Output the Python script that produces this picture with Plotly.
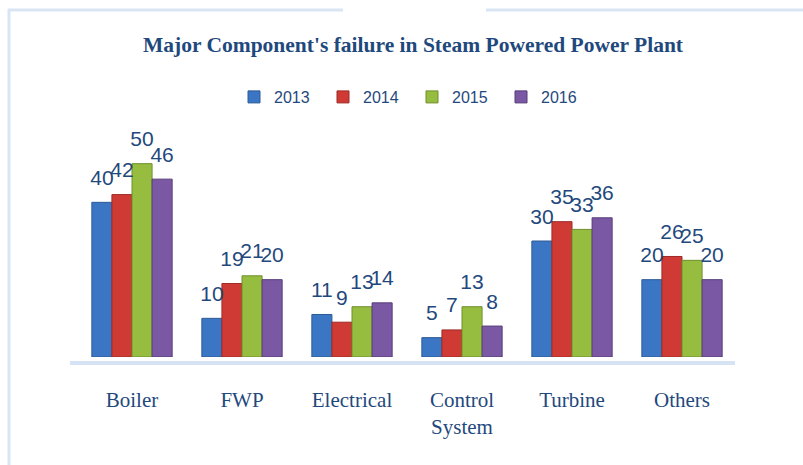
import plotly.graph_objects as go

categories = ["Boiler", "FWP", "Electrical", "Control<br>System", "Turbine", "Others"]
years = ["2013", "2014", "2015", "2016"]
v2013 = [40, 10, 11, 5, 30, 20]
v2014 = [42, 19, 9, 7, 35, 26]
v2015 = [50, 21, 13, 13, 33, 25]
v2016 = [46, 20, 14, 8, 36, 20]
series = [v2013, v2014, v2015, v2016]
colors = ["#3A76C4", "#CF3A35", "#96BD40", "#7B58A4"]
edge = ["#2C5A96", "#9E2B27", "#6F8F2C", "#563C78"]

W, H = 803, 465
L, R, T, B = 77, 66, 125, 108
pw, ph = W - L - R, H - T - B

def px(x):
    return (x - L) / pw

def py(y):
    return (H - B - y) / ph

fig = go.Figure()
for i, (name, vals, c, e) in enumerate(zip(years, series, colors, edge)):
    fig.add_trace(go.Bar(
        x=categories, y=vals, name=name, offsetgroup=str(i),
        marker=dict(color=c, line=dict(color=e, width=1)),
    ))
for i, (name, vals) in enumerate(zip(years, series)):
    fig.add_trace(go.Scatter(
        x=categories, y=vals, name=name, offsetgroup=str(i), showlegend=False,
        mode="markers+text", marker=dict(size=18, opacity=0),
        text=[str(v) for v in vals], textposition="top center", cliponaxis=False,
        textfont=dict(family="Arial", size=21, color="#1F497D"),
    ))

shapes = [
    dict(type="line", xref="paper", yref="paper", x0=px(70), x1=px(735), y0=py(363), y1=py(363),
         line=dict(color="#D5E3F4", width=4), layer="below"),
    dict(type="line", xref="paper", yref="paper", x0=px(8), x1=px(343), y0=py(10), y1=py(10),
         line=dict(color="#D9E5F3", width=3)),
    dict(type="line", xref="paper", yref="paper", x0=px(486), x1=px(803), y0=py(10), y1=py(10),
         line=dict(color="#D9E5F3", width=3)),
    dict(type="line", xref="paper", yref="paper", x0=px(9), x1=px(9), y0=py(9), y1=py(465),
         line=dict(color="#D9E5F3", width=3)),
]

fig.update_layout(
    width=W, height=H,
    margin=dict(l=L, r=R, t=T, b=B),
    paper_bgcolor="white", plot_bgcolor="white",
    barmode="group", bargap=0.27, bargroupgap=0,
    scattermode="group", scattergap=0.27,
    title=dict(text="Major Component's failure in Steam Powered Power Plant",
               x=413 / W, xanchor="center", y=1 - 44 / H, yanchor="middle",
               font=dict(family="Liberation Serif", size=21.5, color="#1F497D", weight="bold")),
    legend=dict(orientation="h", x=px(234), xanchor="left", y=py(97), yanchor="middle",
                entrywidth=44, entrywidthmode="pixels",
                font=dict(family="Arial", size=16, color="#1F497D"),
                bgcolor="rgba(0,0,0,0)"),
    xaxis=dict(showline=False, showgrid=False, zeroline=False, ticks="",
               tickfont=dict(family="Liberation Serif", size=21, color="#1F497D"),
               ticklabelstandoff=28),
    yaxis=dict(range=[0, 60], visible=False, showgrid=False, zeroline=False),
    shapes=shapes,
    showlegend=True,
    hovermode=False,
)

fig.write_html("out.html", config={"displayModeBar": False},
               post_script="document.body.style.margin='0';")
